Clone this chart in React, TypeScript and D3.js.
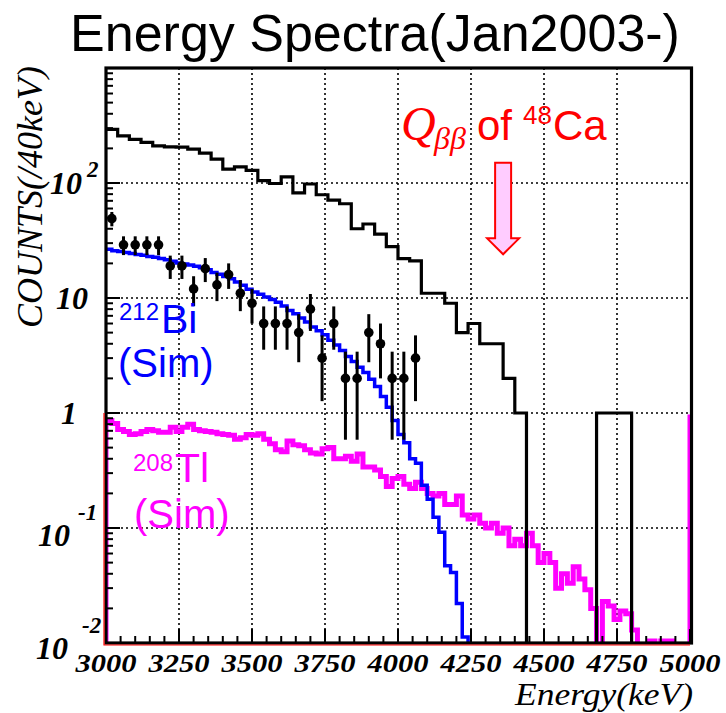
import React, { useEffect, useRef } from "react";
import * as d3 from "d3";

// black histogram, 40 keV bins from 3000 keV
const totalCounts = [
  293, 257, 240, 226, 210, 206, 205, 197, 182, 161,
  132, 138, 129, 105, 99, 113, 82, 98, 79, 71,
  66, 40, 44, 36, 28, 22, 21, 11, 11, 9,
  5, 6, 4, 4, 2, 1, 0, 0, 0, 0,
  0, 0, 1, 1, 1, 0, 0, 0, 0, 0,
];

// data points, 40 keV bins from 3000 keV
const dataCounts = [
  49, 29, 29, 29, 29, 19, 19, 12, 18, 13,
  16, 11, 9, 6, 6, 6, 5, 8, 3, 6,
  2, 2, 5, 4, 2, 2, 3,
];

// 212Bi simulation, 20 keV bins from 3000 keV
const bi212 = [
  26.5, 25.8, 25.4, 24.9, 24.4, 23.9, 23.5, 23.0, 22.6, 22.1,
  21.5, 20.9, 20.2, 19.8, 19.4, 18.9, 18.3, 17.6, 16.7, 16.1,
  15.4, 14.7, 13.8, 12.9, 11.9, 11.3, 10.8, 10.2, 9.7, 9.2,
  8.5, 7.8, 7.3, 6.7, 6.2, 5.6, 5.2, 4.8, 4.3, 3.9,
  3.5, 3.1, 2.8, 2.5, 2.25, 1.97, 1.7, 1.39, 1.12, 0.86,
  0.65, 0.55, 0.4, 0.365, 0.235, 0.178, 0.124, 0.092, 0.047, 0.041,
  0.022, 0.0113, 0,
];

// 208Tl simulation, 20 keV bins from 3000 keV
const tl208 = [
  0.86, 0.81, 0.72, 0.69, 0.65, 0.66, 0.69, 0.72, 0.7, 0.68,
  0.68, 0.75, 0.69, 0.75, 0.8, 0.72, 0.7, 0.69, 0.68, 0.66,
  0.65, 0.64, 0.59, 0.61, 0.65, 0.64, 0.66, 0.59, 0.54, 0.48,
  0.46, 0.57, 0.53, 0.52, 0.48, 0.45, 0.44, 0.49, 0.5, 0.4,
  0.4, 0.42, 0.38, 0.44, 0.34, 0.34, 0.32, 0.28, 0.23, 0.27,
  0.28, 0.24, 0.22, 0.25, 0.22, 0.2, 0.19, 0.2, 0.16, 0.16,
  0.19, 0.13, 0.12, 0.13, 0.11, 0.1, 0.11, 0.09, 0.1, 0.07,
  0.08, 0.07, 0.09, 0.07, 0.05, 0.06, 0.05, 0.03, 0.04, 0.033,
  0.046, 0.036, 0.029, 0.02, 0, 0.023, 0.021, 0.016, 0.019, 0.018,
  0.013, 0, 0, 0.0104, 0, 0.0104, 0.0104, 0, 0, 0,
];

const xTicks = [3000, 3250, 3500, 3750, 4000, 4250, 4500, 4750, 5000];
const xGrid = [3250, 3500, 3750, 4000, 4250, 4500, 4750];
const yGrid = [0.1, 1, 10, 100];
const yLabels = [
  { v: 0.01, base: "10", exp: "-2" },
  { v: 0.1, base: "10", exp: "-1" },
  { v: 1, base: "1", exp: "" },
  { v: 10, base: "10", exp: "" },
  { v: 100, base: "10", exp: "2" },
];
const qValue = 4360;

function App() {
  const ref = useRef<SVGSVGElement>(null);

  useEffect(() => {
    const svg = d3.select(ref.current);
    svg.selectAll("*").remove();

    const left = 106, right = 690, top = 68, bottom = 643;
    const x = d3.scaleLinear().domain([3000, 5000]).range([left, right]);
    const y = d3.scaleLog().domain([0.01, 1000]).range([bottom, top]);
    const yy = (v: number) => y(v > 0 ? v : 0.001);

    svg.append("defs").append("clipPath").attr("id", "plot")
      .append("rect").attr("x", left).attr("y", top)
      .attr("width", right - left).attr("height", bottom - top);

    const serif = "'Liberation Serif', 'Times New Roman', serif";
    const sans = "'Liberation Sans', Arial, sans-serif";

    // grid
    const grid = svg.append("g").attr("stroke", "#000").attr("stroke-width", 1.6)
      .attr("stroke-dasharray", "2,3");
    xGrid.forEach((e) => {
      grid.append("line").attr("x1", x(e)).attr("x2", x(e)).attr("y1", top).attr("y2", bottom);
    });
    yGrid.forEach((v) => {
      grid.append("line").attr("x1", left).attr("x2", right).attr("y1", y(v)).attr("y2", y(v));
    });

    const steps = (vals: number[], w: number) => {
      const pts: [number, number][] = [];
      vals.forEach((v, i) => {
        pts.push([3000 + i * w, v]);
        pts.push([3000 + (i + 1) * w, v]);
      });
      return pts;
    };
    const line = d3.line<[number, number]>().x((d) => x(d[0])).y((d) => yy(d[1]));
    const plot = svg.append("g").attr("clip-path", "url(#plot)");

    // 208Tl
    plot.append("path").attr("d", line([[3000, 0], ...steps(tl208, 20)]))
      .attr("fill", "none").attr("stroke", "#ff00ff").attr("stroke-width", 5);
    plot.append("path").attr("d", line([[5000, 0], [5000, 0.97]]))
      .attr("stroke", "#ff00ff").attr("stroke-width", 3).attr("transform", "translate(-1,0)");

    // 212Bi
    plot.append("path").attr("d", line(steps(bi212, 20)))
      .attr("fill", "none").attr("stroke", "#0000ff").attr("stroke-width", 3.5);

    // total
    plot.append("path").attr("d", line(steps(totalCounts, 40)))
      .attr("fill", "none").attr("stroke", "#000").attr("stroke-width", 3.2);

    // data points
    const pts = plot.append("g");
    dataCounts.forEach((n, i) => {
      const cx = x(3000 + (i + 0.5) * 40);
      const err = Math.sqrt(n);
      pts.append("line").attr("x1", cx).attr("x2", cx)
        .attr("y1", yy(n - err)).attr("y2", y(n + err))
        .attr("stroke", "#000").attr("stroke-width", 3);
      pts.append("circle").attr("cx", cx).attr("cy", y(n)).attr("r", 4.8).attr("fill", "#000");
    });

    // frame
    svg.append("rect").attr("x", left).attr("y", top).attr("width", right + 1.5 - left)
      .attr("height", bottom - top).attr("fill", "none").attr("stroke", "#000").attr("stroke-width", 3.2);
    // red floor
    svg.append("path").attr("d", `M${left - 2},${y(1)}V${bottom + 2}H${right}`)
      .attr("fill", "none").attr("stroke", "#ff0000").attr("stroke-width", 1.2);

    // ticks
    const ticks = svg.append("g").attr("stroke", "#000").attr("stroke-width", 2);
    d3.range(3000, 5001, 50).forEach((e) => {
      const len = e % 250 === 0 ? 14 : 7;
      ticks.append("line").attr("x1", x(e)).attr("x2", x(e)).attr("y1", bottom).attr("y2", bottom - len);
    });
    y.ticks().forEach((v) => {
      const major = Math.abs(Math.log10(v) - Math.round(Math.log10(v))) < 1e-6;
      const len = major ? 14 : 7;
      ticks.append("line").attr("x1", left).attr("x2", left + len).attr("y1", y(v)).attr("y2", y(v));
    });

    // x labels (condensed like the original)
    svg.append("g").selectAll("text").data(xTicks).enter().append("text")
      .attr("x", (d) => x(d)).attr("y", 672).attr("text-anchor", "middle")
      .attr("font-family", serif).attr("font-weight", "bold").attr("font-style", "italic")
      .attr("font-size", 26).attr("textLength", 61).attr("lengthAdjust", "spacingAndGlyphs")
      .text((d) => d);

    // y labels
    yLabels.forEach((l) => {
      const g = svg.append("g").attr("font-family", serif).attr("font-weight", "bold")
        .attr("font-style", "italic").attr("fill", "#000");
      const yv = y(l.v);
      if (l.exp === "") {
        g.append("text").attr("x", l.base === "1" ? 77 : 88).attr("y", yv + 11)
          .attr("text-anchor", "end").attr("font-size", 32).text(l.base);
      } else if (l.exp === "2") {
        g.append("text").attr("x", 82).attr("y", yv + 11).attr("text-anchor", "end")
          .attr("font-size", 32).text(l.base);
        g.append("text").attr("x", 87).attr("y", yv - 6).attr("font-size", 23).text(l.exp);
      } else if (l.exp === "-1") {
        g.append("text").attr("x", 70).attr("y", yv + 18).attr("text-anchor", "end")
          .attr("font-size", 32).text(l.base);
        g.append("text").attr("x", 78).attr("y", yv - 8).attr("font-size", 23).text(l.exp);
      } else {
        g.append("text").attr("x", 68).attr("y", yv + 16).attr("text-anchor", "end")
          .attr("font-size", 32).text(l.base);
        g.append("text").attr("x", 82).attr("y", yv - 10).attr("font-size", 23).text(l.exp);
      }
    });

    // axis titles
    svg.append("text").attr("x", 693).attr("y", 705).attr("text-anchor", "end")
      .attr("font-family", serif).attr("font-style", "italic").attr("font-size", 32)
      .attr("textLength", 178).attr("lengthAdjust", "spacingAndGlyphs")
      .text("Energy(keV)");
    svg.append("text").attr("transform", "translate(42,66) rotate(-90)").attr("text-anchor", "end")
      .attr("font-family", serif).attr("font-style", "italic").attr("font-size", 36)
      .text("COUNTS(/40keV)");

    // title
    svg.append("text").attr("x", 375).attr("y", 51).attr("text-anchor", "middle")
      .attr("font-family", sans).attr("font-size", 52).text("Energy Spectra(Jan2003-)");

    // Q annotation
    const q = svg.append("g").attr("fill", "#ff0000");
    q.append("text").attr("x", 401).attr("y", 140).attr("font-family", serif)
      .attr("font-style", "italic").attr("font-size", 48).text("Q");
    q.append("text").attr("x", 434).attr("y", 149).attr("font-family", serif)
      .attr("font-style", "italic").attr("font-size", 32).text("ββ");
    q.append("text").attr("x", 477).attr("y", 140).attr("font-family", sans)
      .attr("font-size", 42).text("of");
    q.append("text").attr("x", 523).attr("y", 124).attr("font-family", sans)
      .attr("font-size", 26).text("48");
    q.append("text").attr("x", 553).attr("y", 140).attr("font-family", sans)
      .attr("font-size", 42).text("Ca");

    // arrow
    const ax = x(qValue);
    const yTop = y(150), yHead = y(33), yTip = y(24);
    svg.append("path")
      .attr("d", `M${ax - 8},${yTop}H${ax + 8}V${yHead}H${ax + 16}L${ax},${yTip}L${ax - 16},${yHead}H${ax - 8}Z`)
      .attr("fill", "#ffccff").attr("stroke", "#ff0000").attr("stroke-width", 2);

    // sim labels
    const bi = svg.append("g").attr("fill", "#0000ff").attr("font-family", sans);
    bi.append("text").attr("x", 119).attr("y", 320).attr("font-size", 24).text("212");
    bi.append("text").attr("x", 161).attr("y", 333).attr("font-size", 41).text("Bi");
    bi.append("text").attr("x", 118).attr("y", 377).attr("font-size", 40).text("(Sim)");

    const tl = svg.append("g").attr("fill", "#ff00ff").attr("font-family", sans);
    tl.append("text").attr("x", 133).attr("y", 471).attr("font-size", 24).text("208");
    tl.append("text").attr("x", 175).attr("y", 482).attr("font-size", 41).text("Tl");
    tl.append("text").attr("x", 134).attr("y", 528).attr("font-size", 40).text("(Sim)");
  }, []);

  return (
    <svg ref={ref} width={726} height={713}
      style={{ position: "absolute", left: 0, top: 0, background: "#fff" }} />
  );
}

export default App;
